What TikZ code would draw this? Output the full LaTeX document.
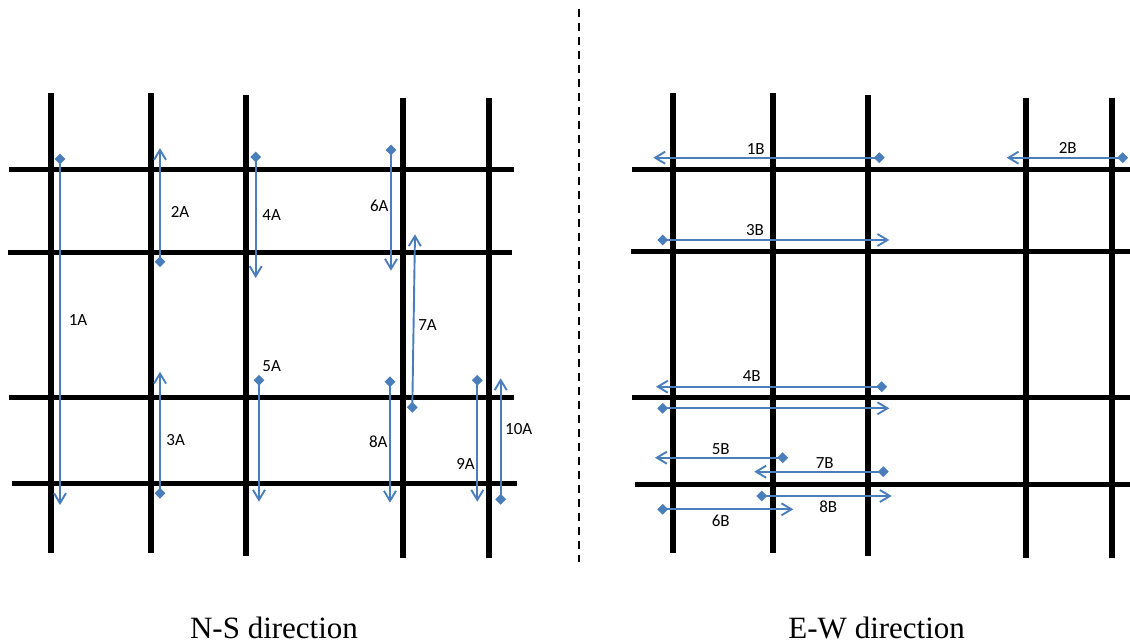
\documentclass[tikz,border=0pt]{standalone}
\usepackage{fontspec}
\setmainfont{Carlito}
\newfontfamily\capfont{Liberation Serif}
\usetikzlibrary{arrows.meta,shapes.geometric}
\definecolor{flowblue}{HTML}{4A7EBB}
\begin{document}
\begin{tikzpicture}[x=1pt,y=-1pt,
  vbeam/.style={line width=6pt,black},
  hbeam/.style={line width=5pt,black},
  flow/.style={draw=flowblue,line width=1.9pt,-{Straight Barb[length=10pt,width=12pt]}},
  src/.style={shape=diamond,fill=flowblue,inner sep=0pt,minimum width=11pt,minimum height=11pt},
  tag/.style={font=\fontsize{17}{17}\selectfont,inner sep=0pt,text height=11pt,text depth=0pt,anchor=center},
  caption/.style={font=\capfont\fontsize{31}{31}\selectfont,inner sep=0pt,anchor=base},
  divider/.style={line width=2pt,dash pattern=on 8pt off 6pt}]
\useasboundingbox (0,0) rectangle (1130,643);

% ---------- N-S direction grid ----------
\foreach \x/\a/\b in {51/93/553,150.7/93/553,245.7/95/556,402.7/98/558,489/98/558}
  \draw[vbeam] (\x,\a) -- (\x,\b);
\draw[hbeam] (9,169.3) -- (514,169.3);
\draw[hbeam] (8,252) -- (512,252);
\draw[hbeam] (9,397.3) -- (514,397.3);
\draw[hbeam] (12,483.5) -- (516.7,483.5);

% ---------- E-W direction grid ----------
\foreach \x/\a/\b in {673.3/93/553,773.3/93/553,868.3/95/556,1025.7/98/558,1112.3/98/558}
  \draw[vbeam] (\x,\a) -- (\x,\b);
\draw[hbeam] (632,169.3) -- (1135,169.3);
\draw[hbeam] (631,251.7) -- (1135,251.7);
\draw[hbeam] (632,397.3) -- (1135,397.3);
\draw[hbeam] (635,484) -- (1135,484);

% ---------- divider ----------
\coordinate (dtop) at (579.3,9);
\coordinate (dbot) at (579.3,562);
\draw[divider] (dtop) -- (dbot);

% ---------- N-S flows ----------
\node[src] (s1A) at (60,159) {};      \coordinate (e1A) at (60,505);
\node[src] (s2A) at (160,261.7) {};   \coordinate (e2A) at (160,148);
\node[src] (s3A) at (160,493.3) {};   \coordinate (e3A) at (160,371.7);
\node[src] (s4A) at (255.7,157) {};   \coordinate (e4A) at (255.7,278);
\node[src] (s5A) at (259,380.3) {};   \coordinate (e5A) at (259,501.7);
\node[src] (s6A) at (391,150) {};     \coordinate (e6A) at (391,270.7);
\node[src] (s7A) at (412.3,407.3) {}; \coordinate (e7A) at (415,234.3);
\node[src] (s8A) at (390,381.7) {};   \coordinate (e8A) at (390,502.7);
\node[src] (s9A) at (477.3,380.3) {}; \coordinate (e9A) at (477.3,501.7);
\node[src] (s10A) at (500.7,499.3) {};\coordinate (e10A) at (500.7,378.3);
\foreach \n in {1A,2A,3A,4A,5A,6A,7A,8A,9A,10A}
  \draw[flow] (s\n.center) -- (e\n);

\node[tag] (l1A) at (78,320) {1A};
\node[tag] (l2A) at (180,212) {2A};
\node[tag] (l3A) at (175.7,439.8) {3A};
\node[tag] (l4A) at (271.7,215.3) {4A};
\node[tag] (l5A) at (271.7,365.8) {5A};
\node[tag] (l6A) at (379.3,205.7) {6A};
\node[tag] (l7A) at (427.5,325) {7A};
\node[tag] (l8A) at (378.3,441.5) {8A};
\node[tag] (l9A) at (465.5,464.2) {9A};
\node[tag] (l10A) at (518.7,429.2) {10A};

% ---------- E-W flows ----------
\node[src] (s1B) at (879.3,157.7) {};  \coordinate (e1B) at (653.3,157.7);
\node[src] (s2B) at (1122.7,157.7) {}; \coordinate (e2B) at (1006.7,157.7);
\node[src] (s3B) at (662.7,240) {};    \coordinate (e3B) at (889.3,240);
\node[src] (s4B) at (881.7,386.7) {};  \coordinate (e4B) at (656,386.7);
\node[src] (s4Bb) at (662.7,408.3) {}; \coordinate (e4Bb) at (889.3,408.3);
\node[src] (s5B) at (782.7,457.7) {};  \coordinate (e5B) at (655,457.7);
\node[src] (s6B) at (662.7,509.3) {};  \coordinate (e6B) at (793.3,509.3);
\node[src] (s7B) at (883.3,471.7) {};  \coordinate (e7B) at (754.3,471.7);
\node[src] (s8B) at (761.7,496) {};    \coordinate (e8B) at (891.7,496);
\foreach \n in {1B,2B,3B,4B,4Bb,5B,6B,7B,8B}
  \draw[flow] (s\n.center) -- (e\n);

\node[tag] (l1B) at (755.8,148.7) {1B};
\node[tag] (l2B) at (1067.8,147.8) {2B};
\node[tag] (l3B) at (755,230.3) {3B};
\node[tag] (l4B) at (751.8,376.2) {4B};
\node[tag] (l5B) at (720.8,449.2) {5B};
\node[tag] (l6B) at (720.8,520.5) {6B};
\node[tag] (l7B) at (824.7,462.8) {7B};
\node[tag] (l8B) at (828.2,507.2) {8B};

% ---------- captions ----------
\node[caption] (capNS) at (274,638) {N-S direction};
\node[caption] (capEW) at (876.7,638) {E-W direction};
\end{tikzpicture}
\end{document}
